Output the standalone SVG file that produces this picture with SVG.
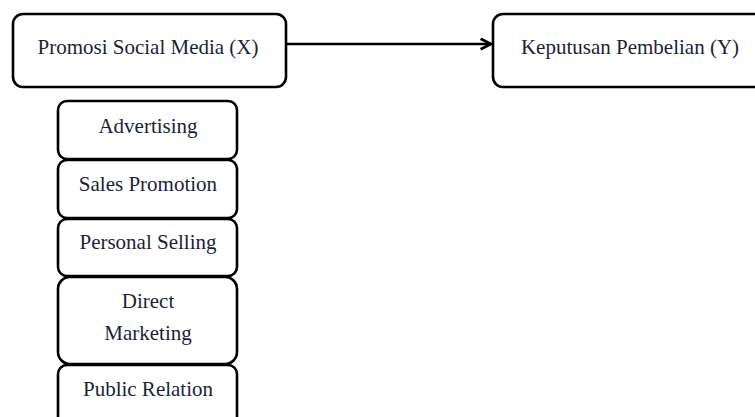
<svg xmlns="http://www.w3.org/2000/svg" width="755" height="417" viewBox="0 0 755 417">
<style>
.box{fill:#ffffff;stroke:#000000;stroke-width:2.6}
.t{font-family:"Liberation Serif","Times New Roman",serif;font-size:21px;fill:#1b1f3a;text-anchor:middle}
.conn{stroke:#000000;stroke-width:2.6;fill:none}
</style>
<defs>
<marker id="arr" viewBox="0 0 10 10" refX="9" refY="5" markerWidth="5" markerHeight="5" orient="auto" markerUnits="strokeWidth">
<path d="M1,1 L9,5 L1,9" fill="none" stroke="#000000" stroke-width="2.2"/>
</marker>
</defs>
<rect width="755" height="417" fill="#ffffff"/>
<g id="connectors">
<line class="conn" x1="287" y1="44" x2="491" y2="44" marker-end="url(#arr)"/>
</g>
<g id="promosi">
<rect class="box" x="13" y="14" width="273" height="73" rx="10"/>
<text class="t" x="148" y="54">Promosi Social Media (X)</text>
</g>
<g id="keputusan">
<rect class="box" x="493" y="14" width="290" height="73" rx="10"/>
<text class="t" x="630" y="54">Keputusan Pembelian (Y)</text>
</g>
<g id="advertising">
<rect class="box" x="58" y="101" width="179" height="58" rx="9"/>
<text class="t" x="148" y="133">Advertising</text>
</g>
<g id="sales-promotion">
<rect class="box" x="58" y="160" width="179" height="58" rx="9"/>
<text class="t" x="148" y="191">Sales Promotion</text>
</g>
<g id="personal-selling">
<rect class="box" x="58" y="219" width="179" height="57" rx="9"/>
<text class="t" x="148" y="249">Personal Selling</text>
</g>
<g id="direct-marketing">
<rect class="box" x="58" y="277" width="179" height="87" rx="12"/>
<text class="t" x="148" y="308">Direct</text>
<text class="t" x="148" y="340">Marketing</text>
</g>
<g id="public-relation">
<rect class="box" x="58" y="365" width="179" height="70" rx="9"/>
<text class="t" x="148" y="396">Public Relation</text>
</g>
</svg>
